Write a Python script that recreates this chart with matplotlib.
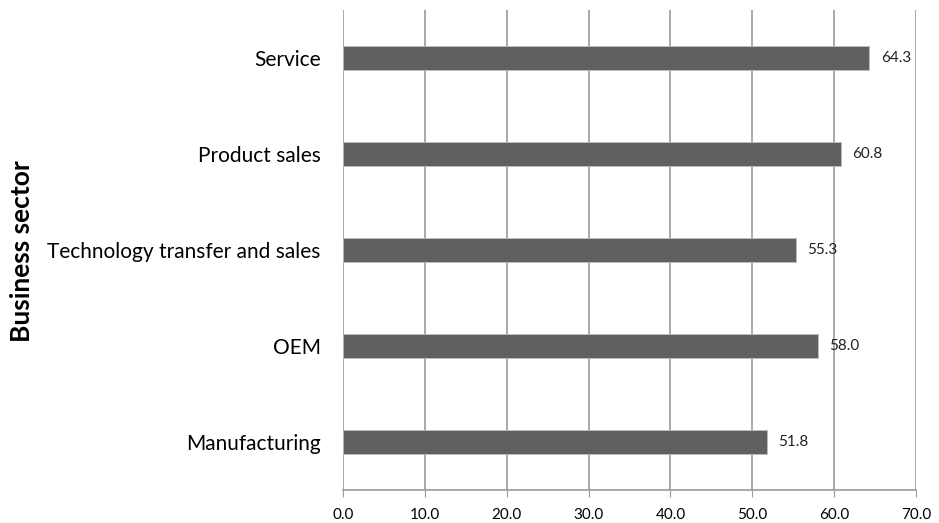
import matplotlib
matplotlib.use("Agg")
import matplotlib.pyplot as plt

categories = ["Manufacturing", "OEM", "Technology transfer and sales", "Product sales", "Service"]
values = [51.8, 58.0, 55.3, 60.8, 64.3]
xticks = [0, 10, 20, 30, 40, 50, 60, 70]
xlabels = ["0.0", "10.0", "20.0", "30.0", "40.0", "50.0", "60.0", "70.0"]

plt.rcParams['font.family'] = ['Lato', 'DejaVu Sans']

fig = plt.figure(figsize=(9.39, 5.23), dpi=100)
ax = fig.add_axes([343/939, 1-490/523, (916-343)/939, 480/523])

ypos = list(range(len(categories)))
ax.barh(ypos, values, height=0.24, color="#606060", edgecolor="#bdbdbd", linewidth=0.6, zorder=3)
for y, v in zip(ypos, values):
    ax.text(v + 1.4, y, f"{v:.1f}", va="center", ha="left", fontsize=11, color="#222222")

ax.set_xlim(0, 70)
ax.set_ylim(-0.5, len(categories) - 0.5)
ax.set_xticks(xticks)
ax.set_xticklabels(xlabels, fontsize=11)
ax.set_yticks(ypos)
ax.set_yticklabels(categories, fontsize=15)
ax.tick_params(axis='y', length=0, pad=16)
ax.tick_params(axis='x', length=5, color="#999999", pad=8)
ax.grid(axis='x', color="#999999", linewidth=1.2, zorder=0)
for s in ["top", "right", "left"]:
    ax.spines[s].set_visible(False)
ax.spines["bottom"].set_color("#999999")
ax.spines["bottom"].set_linewidth(1.2)

fig.text(22/939, 1-251/523, "Business sector", rotation=90, fontsize=19, fontweight="bold",
         ha="center", va="center")

fig.savefig("out.png", dpi=100)
